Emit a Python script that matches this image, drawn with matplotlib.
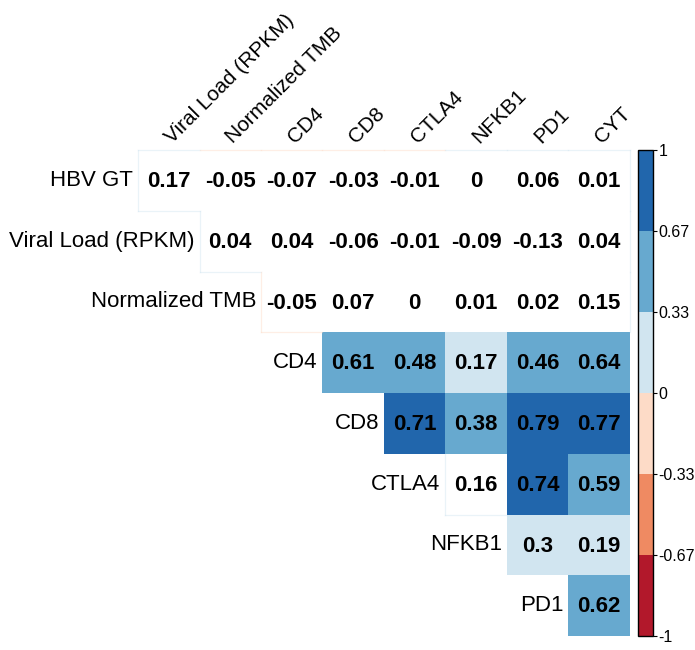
import matplotlib as mpl
import matplotlib.pyplot as plt
from matplotlib.colors import ListedColormap, BoundaryNorm
from matplotlib.patches import Rectangle

plt.rcParams['font.family'] = ['Liberation Sans', 'DejaVu Sans']

row_labels = ["HBV GT", "Viral Load (RPKM)", "Normalized TMB", "CD4", "CD8",
              "CTLA4", "NFKB1", "PD1"]
col_labels = ["Viral Load (RPKM)", "Normalized TMB", "CD4", "CD8", "CTLA4",
              "NFKB1", "PD1", "CYT"]

# Correlations per row, each row starts on the diagonal
hbv_gt = [0.17, -0.05, -0.07, -0.03, -0.01, 0, 0.06, 0.01]
viral_load = [0.04, 0.04, -0.06, -0.01, -0.09, -0.13, 0.04]
tmb = [-0.05, 0.07, 0, 0.01, 0.02, 0.15]
cd4 = [0.61, 0.48, 0.17, 0.46, 0.64]
cd8 = [0.71, 0.38, 0.79, 0.77]
ctla4 = [0.16, 0.74, 0.59]
nfkb1 = [0.3, 0.19]
pd1 = [0.62]
row_values = [hbv_gt, viral_load, tmb, cd4, cd8, ctla4, nfkb1, pd1]

# Non-significant correlations are left blank
blank_rows = ["HBV GT", "Viral Load (RPKM)", "Normalized TMB"]
blank_cells = [("CTLA4", "NFKB1")]

level_bounds = [-1, -0.67, -0.33, 0, 0.33, 0.67, 1]
level_labels = ["-1", "-0.67", "-0.33", "0", "0.33", "0.67", "1"]
level_colors = ["#B2182B", "#EF8A62", "#FDDBC7", "#D1E5F0", "#67A9CF", "#2166AC"]

cmap = ListedColormap(level_colors)
norm = BoundaryNorm(level_bounds, cmap.N)
n_rows = len(row_labels)
n_cols = len(col_labels)


def in_triangle(r, c):
    """True if (row, col) is a drawn cell of the upper triangle."""
    return 0 <= r < n_rows and r <= c < n_cols


def is_blank(r, c):
    return row_labels[r] in blank_rows or (row_labels[r], col_labels[c]) in blank_cells


def draw_cells(ax):
    """Draw the coloured cells and their coefficients."""
    for r, values in enumerate(row_values):
        for k, v in enumerate(values):
            c = r + k
            color = cmap(norm(v))
            blank = is_blank(r, c)
            face = "white" if blank else color
            ax.add_patch(Rectangle((c, r), 1, 1, facecolor=face, edgecolor="none"))
            if blank:
                # faint outline where the blank cell meets the empty area
                edges = [((c, r), (c + 1, r), (r - 1, c)),
                         ((c, r + 1), (c + 1, r + 1), (r + 1, c)),
                         ((c, r), (c, r + 1), (r, c - 1)),
                         ((c + 1, r), (c + 1, r + 1), (r, c + 1))]
                for p0, p1, nb in edges:
                    if not in_triangle(*nb):
                        ax.plot([p0[0], p1[0]], [p0[1], p1[1]], color=color,
                                lw=0.9, alpha=0.45, clip_on=False)
            ax.text(c + 0.5, r + 0.52, f"{v:g}", ha="center", va="center",
                    fontsize=16, fontweight="bold", color="black")


def draw_labels(ax):
    """Row labels left of the diagonal, column labels rotated on top."""
    for r, name in enumerate(row_labels):
        ax.text(r - 0.08, r + 0.5, name, ha="right", va="center",
                fontsize=16, color="black")
    for c, name in enumerate(col_labels):
        ax.text(c + 0.55, -0.1, name, ha="left", va="baseline",
                rotation=45, rotation_mode="anchor", fontsize=15, color="black")


def draw_colorbar(fig):
    cax = fig.add_axes([638 / 695, 14 / 650, 15 / 695, 486 / 650])
    cb = mpl.colorbar.ColorbarBase(cax, cmap=cmap, norm=norm,
                                   boundaries=level_bounds, ticks=level_bounds)
    cb.ax.set_yticklabels(level_labels)
    cb.ax.tick_params(length=3, width=0.8, pad=1, labelsize=11.5)
    cb.outline.set_linewidth(1.0)
    cb.outline.set_edgecolor("black")


def main():
    fig = plt.figure(figsize=(6.95, 6.5), dpi=100)
    ax = fig.add_axes([138 / 695, 14 / 650, 492 / 695, 486 / 650])
    ax.set_xlim(0, n_cols)
    ax.set_ylim(n_rows, 0)
    ax.axis("off")

    draw_cells(ax)
    draw_labels(ax)
    draw_colorbar(fig)

    fig.savefig("out.png", dpi=100, facecolor="white")


if __name__ == "__main__":
    main()
